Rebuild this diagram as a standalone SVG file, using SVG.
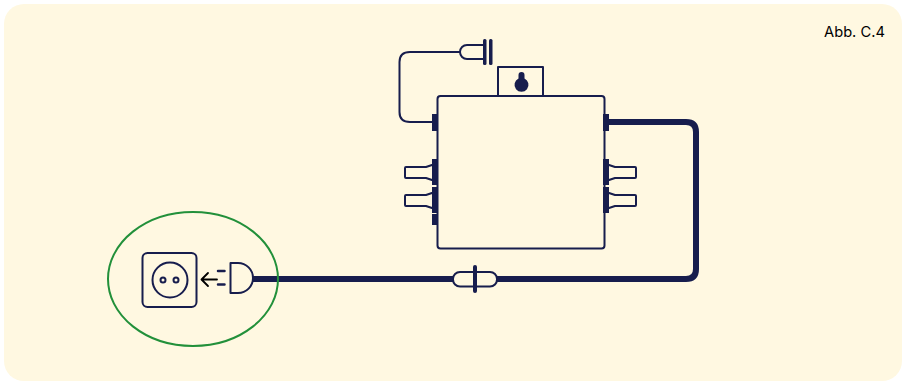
<svg xmlns="http://www.w3.org/2000/svg" width="902" height="381" viewBox="0 0 902 381">
<style>
.t{fill:none;stroke:#171d4d;stroke-width:2;stroke-linecap:round;stroke-linejoin:round}
.f{fill:#171d4d;stroke:none}
.b{fill:#fff8e1;stroke:#171d4d;stroke-width:2;stroke-linejoin:round}
.w{fill:none;stroke:#171d4d;stroke-width:6;stroke-linejoin:round}
</style>
<rect width="902" height="381" fill="#ffffff"/>
<rect x="4" y="4" width="898" height="377" rx="20" fill="#fff8e1"/>
<text id="label" x="824" y="37" font-family="Inter, 'Liberation Sans', sans-serif" font-size="14.700" fill="#000000">Abb. C.4</text>
<g id="connectors">
<path class="t" d="M460 52H410Q399.500 52 399.500 62V112Q399.500 122 410 122H433"/>
<path class="w" d="M608 122H686Q696 122 696 132V269Q696 279 686 279H252"/>
</g>
<g id="inverter">
<rect class="b" x="498" y="67" width="45" height="30"/>
<rect class="b" x="437.500" y="96" width="167" height="152.500" rx="3"/>
<path class="f" d="M518.500 75a3 3 0 0 1 6 0v3.500a7 7 0 1 1-6 0z"/>
<rect class="f" x="432" y="114" width="6" height="17"/>
<rect class="f" x="432" y="159" width="6" height="26"/>
<rect class="f" x="432" y="187" width="6" height="26"/>
<rect class="f" x="432" y="214" width="6" height="11"/>
<rect class="f" x="603" y="114" width="6" height="17"/>
<rect class="f" x="603" y="159" width="6" height="26"/>
<rect class="f" x="603" y="187" width="6" height="26"/>
<path class="t" d="M432 165L426 167H406Q405 167 405 168V177Q405 178 406 178H426L432 180"/>
<path class="t" d="M432 193L426 195H406Q405 195 405 196V205Q405 206 406 206H426L432 208"/>
<path class="t" d="M609 165L615 167H635Q636 167 636 168V177Q636 178 635 178H615L609 180"/>
<path class="t" d="M609 193L615 195H635Q636 195 636 196V205Q636 206 635 206H615L609 208"/>
</g>
<g id="top-connector">
<path class="b" d="M484 45H467a7 7 0 0 0 0 14H484"/>
<rect class="f" x="483" y="39" width="3.500" height="26" rx="1.500"/>
<rect class="f" x="489" y="39" width="3.500" height="26" rx="1.500"/>
</g>
<g id="inline-connector">
<rect class="b" x="453" y="272" width="44" height="14.500" rx="7"/>
<rect class="f" x="473" y="265" width="4" height="28" rx="2"/>
</g>
<g id="socket">
<ellipse cx="193" cy="279" rx="85" ry="67" fill="none" stroke="#22903a" stroke-width="2"/>
<rect class="t" x="142.500" y="253" width="54" height="54" rx="5"/>
<circle class="t" cx="170" cy="280" r="17.500"/>
<circle class="t" cx="163" cy="280" r="2.500"/>
<circle class="t" cx="176" cy="280" r="2.500"/>
</g>
<g id="plug">
<path class="t" d="M230.500 263H238a15 15 0 0 1 0 30H230.500z"/>
<path d="M218 271H224.500M218 284.500H224.500" fill="none" stroke="#171d4d" stroke-width="2.500" stroke-linecap="round"/>
<path d="M202 279.500H217M208 273L201.500 279.500L208 286" fill="none" stroke="#000000" stroke-width="1.800" stroke-linecap="round" stroke-linejoin="round"/>
</g>
</svg>
